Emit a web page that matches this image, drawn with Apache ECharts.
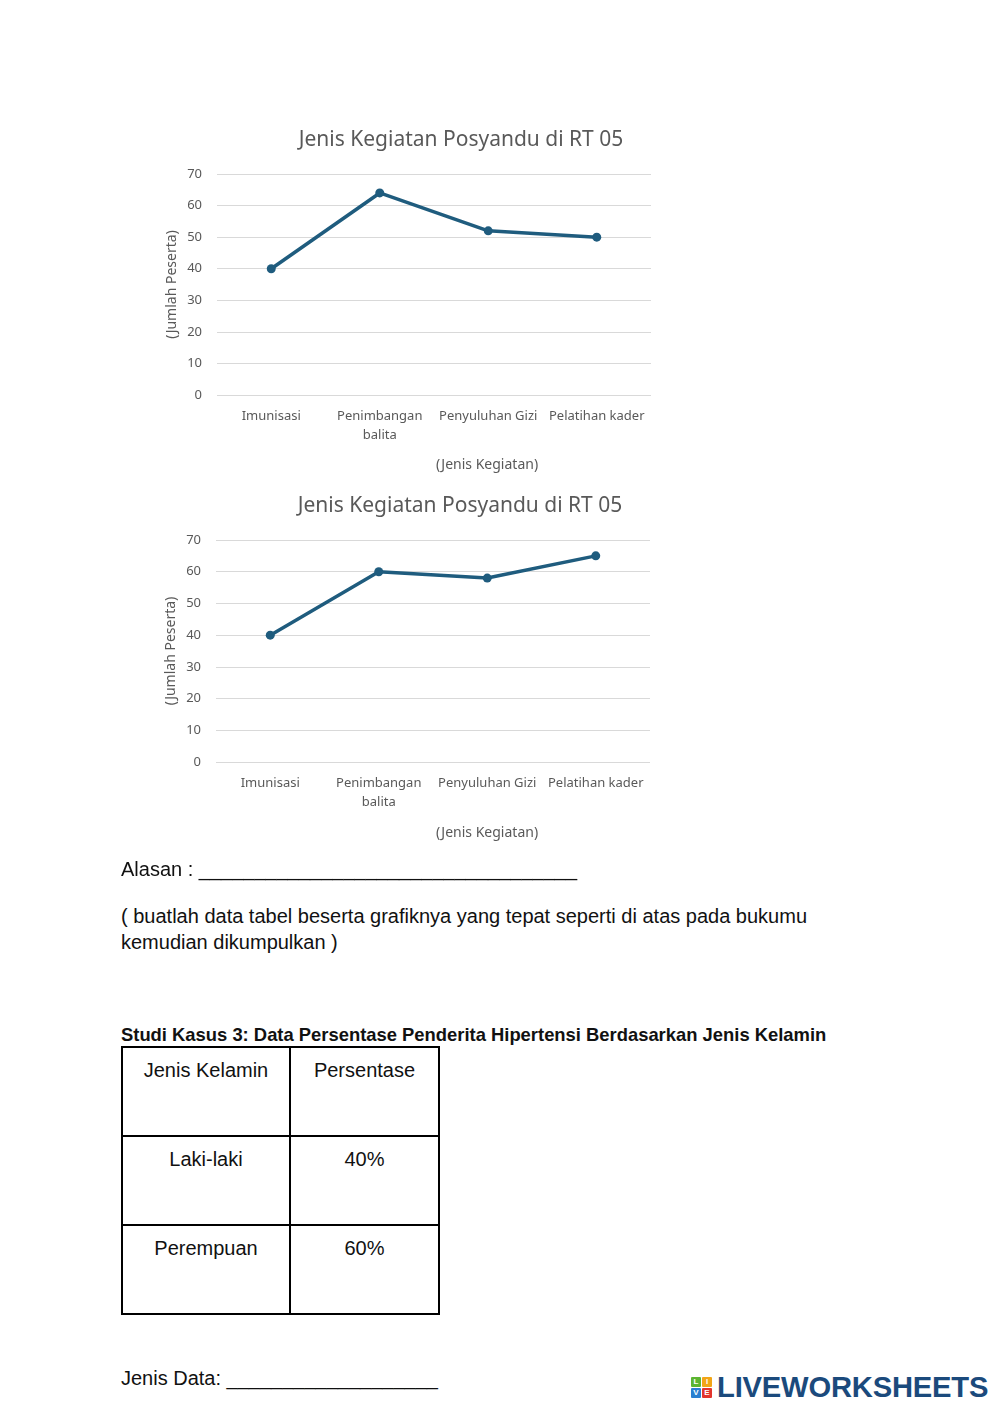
<!DOCTYPE html>
<html>
<head>
<meta charset="utf-8">
<script src="https://cdn.jsdelivr.net/npm/echarts@6/dist/echarts.min.js"></script>
<style>
  html, body { margin:0; padding:0; background:#fff; }
  body { width:999px; height:1412px; position:relative; overflow:hidden; font-family: "Liberation Sans", Arial, sans-serif; color:#111; }
  #charts { position:absolute; left:0; top:100px; width:999px; height:760px; }
  .t { position:absolute; font-size:20px; line-height:22px; white-space:nowrap; }
  .b { font-weight:bold; font-size:18.4px; }
  table { position:absolute; left:121px; top:1046px; border-collapse:collapse; }
  td { border:2px solid #000; vertical-align:top; text-align:center; font-size:20px; line-height:22px; padding:11px 0 0 0; box-sizing:border-box; }
  .logo { position:absolute; left:691px; top:1373px; height:28px; display:flex; align-items:center; }
  .icon { display:grid; grid-template-columns:10px 10px; grid-template-rows:10px 10px; gap:1px; margin-right:5px; }
  .icon span { display:block; font:bold 8px/10px "Liberation Sans",Arial; color:#fff; text-align:center; border-radius:1px; }
  .word { font-family:"Liberation Sans",Arial,sans-serif; font-weight:bold; font-size:29.2px; color:#1b4a7c; letter-spacing:-0.2px; }
</style>
</head>
<body>
<div id="charts"></div>

<div class="t" style="left:121px; top:858px;">Alasan : __________________________________</div>
<div class="t" style="left:121px; top:905px;">( buatlah data tabel beserta grafiknya yang tepat seperti di atas pada bukumu</div>
<div class="t" style="left:121px; top:931px;">kemudian dikumpulkan )</div>

<div class="t b" style="left:121px; top:1024px;">Studi Kasus 3: Data Persentase Penderita Hipertensi Berdasarkan Jenis Kelamin</div>

<table>
  <tr><td style="width:168px; height:89px;">Jenis Kelamin</td><td style="width:149px;">Persentase</td></tr>
  <tr><td style="height:89px;">Laki-laki</td><td>40%</td></tr>
  <tr><td style="height:89px;">Perempuan</td><td>60%</td></tr>
</table>

<div class="t" style="left:121px; top:1367px;">Jenis Data: ___________________</div>

<div class="logo">
  <div class="icon">
    <span style="background:#5cb531;">L</span><span style="background:#f2a516;">I</span>
    <span style="background:#2a7fd0;">V</span><span style="background:#e2352d;">E</span>
  </div>
  <div class="word">LIVEWORKSHEETS</div>
</div>

<script>
const chartTitle = 'Jenis Kegiatan Posyandu di RT 05';
const categories = ['Imunisasi', 'Penimbangan balita', 'Penyuluhan Gizi', 'Pelatihan kader'];
const valuesChart1 = [40, 64, 52, 50];
const valuesChart2 = [40, 60, 58, 65];
const yTicks = [0, 10, 20, 30, 40, 50, 60, 70];
const yAxisName = '(Jumlah Peserta)';
const xAxisName = '(Jenis Kegiatan)';

const gray = '#595959';
const lineColor = '#1f5c7e';
const font = '"Noto Sans", "Open Sans", sans-serif';

const chart = echarts.init(document.getElementById('charts'), null, { renderer: 'canvas' });

const grids = [
  { left: 217, width: 434, top: 74, height: 221 },
  { left: 216, width: 434, top: 440, height: 222 }
];

function xAxisCfg(i) {
  return {
    type: 'category', gridIndex: i, data: categories, boundaryGap: true,
    axisLine: { show: false }, axisTick: { show: false },
    axisLabel: {
      color: gray, fontSize: 13, fontFamily: font, margin: 12, lineHeight: 19, interval: 0,
      formatter: v => v.length > 16 ? v.replace(' ', '\n') : v
    }
  };
}
function yAxisCfg(i) {
  return {
    type: 'value', gridIndex: i, min: yTicks[0], max: yTicks[yTicks.length - 1], interval: 10,
    axisLine: { show: false }, axisTick: { show: false },
    axisLabel: { color: gray, fontSize: 13, fontFamily: font, margin: 15 },
    splitLine: { lineStyle: { color: '#d9d9d9', width: 1 } },
    name: yAxisName, nameLocation: 'middle', nameGap: 38, nameRotate: 90,
    nameTextStyle: { color: gray, fontSize: 14, fontFamily: font }
  };
}
function seriesCfg(i, data) {
  return {
    type: 'line', xAxisIndex: i, yAxisIndex: i, data: data,
    symbol: 'circle', symbolSize: 9,
    lineStyle: { color: lineColor, width: 3.5 },
    itemStyle: { color: lineColor },
    animation: false
  };
}

chart.setOption({
  animation: false,
  title: [
    { text: chartTitle, left: 456, top: 25, textAlign: 'center',
      textStyle: { color: gray, fontSize: 21, fontWeight: 'normal', fontFamily: font } },
    { text: xAxisName, left: 482, top: 353, textAlign: 'center',
      textStyle: { color: gray, fontSize: 14, fontWeight: 'normal', fontFamily: font } },
    { text: chartTitle, left: 455, top: 391, textAlign: 'center',
      textStyle: { color: gray, fontSize: 21, fontWeight: 'normal', fontFamily: font } },
    { text: xAxisName, left: 482, top: 721, textAlign: 'center',
      textStyle: { color: gray, fontSize: 14, fontWeight: 'normal', fontFamily: font } }
  ],
  grid: grids,
  xAxis: [xAxisCfg(0), xAxisCfg(1)],
  yAxis: [yAxisCfg(0), yAxisCfg(1)],
  series: [seriesCfg(0, valuesChart1), seriesCfg(1, valuesChart2)]
});
</script>
</body>
</html>
